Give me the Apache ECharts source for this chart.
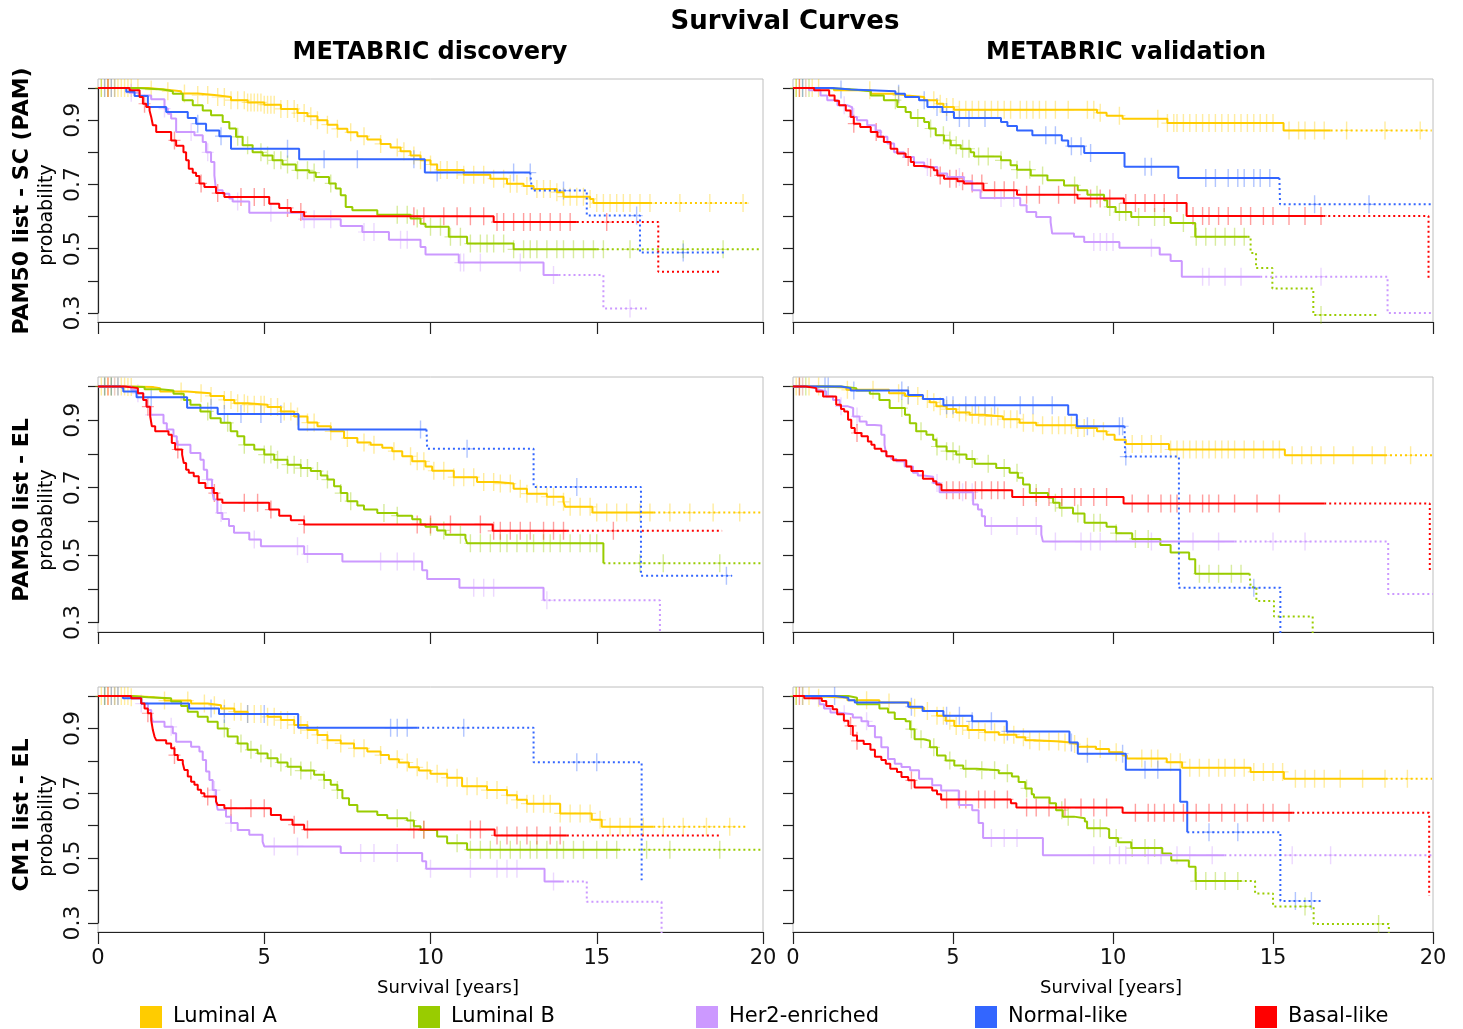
<!DOCTYPE html>
<html>
<head>
<meta charset="utf-8">
<script src="https://cdn.jsdelivr.net/npm/echarts@6/dist/echarts.min.js"></script>
<style>
  html, body { margin: 0; padding: 0; background: #fff; }
  #chart { width: 1463px; height: 1029px; }
</style>
</head>
<body>
<div id="chart"></div>
<script>
// groups and colours
const groups = ['Luminal A', 'Luminal B', 'Her2-enriched', 'Normal-like', 'Basal-like'];
const groupColors = ['#FFCC00', '#99CC00', '#CC99FF', '#3366FF', '#FF0000'];
const colTitles = ['METABRIC discovery', 'METABRIC validation'];
const rowTitles = ['PAM50 list - SC (PAM)', 'PAM50 list - EL', 'CM1 list - EL'];
const xTicks = [0, 5, 10, 15, 20];
const yTicks = [0.3, 0.4, 0.5, 0.6, 0.7, 0.8, 0.9, 1.0];

// ---- PAM50 SC (PAM), discovery : [time, survival] after each drop ----
const scDiscLumA = [[0,1],[1.5,0.995],[2,0.99],[2.5,0.983],[3,0.978],[3.5,0.972],[4,0.962],[4.5,0.955],[5,0.948],[5.5,0.935],[6,0.922],[6.3,0.912],[6.6,0.9],[6.9,0.886],[7.2,0.873],[7.5,0.862],[7.8,0.85],[8.1,0.84],[8.5,0.826],[8.8,0.815],[9.1,0.803],[9.4,0.79],[9.7,0.775],[10,0.762],[10.2,0.745],[11,0.73],[11.8,0.718],[12.3,0.702],[12.8,0.695],[13.1,0.686],[13.8,0.676],[14,0.662],[14.8,0.655],[14.9,0.642]];
const scDiscLumB = [[0,1],[1.2,0.995],[1.95,0.99],[2.25,0.982],[2.55,0.962],[2.85,0.946],[3.15,0.93],[3.4,0.915],[3.75,0.894],[3.95,0.874],[4.15,0.848],[4.35,0.822],[4.65,0.8],[4.95,0.79],[5.25,0.775],[5.55,0.762],[5.95,0.744],[6.35,0.737],[6.55,0.723],[6.95,0.703],[7.15,0.687],[7.3,0.666],[7.45,0.63],[7.65,0.62],[8.4,0.606],[9.4,0.594],[9.7,0.578],[9.85,0.568],[10.55,0.537],[11.1,0.516],[12.5,0.498]];
const scDiscHer2 = [[0,1],[0.95,0.985],[1.25,0.977],[1.6,0.965],[2,0.936],[2.1,0.92],[2.2,0.905],[2.35,0.863],[2.9,0.853],[3.15,0.832],[3.25,0.8],[3.4,0.77],[3.5,0.728],[3.55,0.682],[3.75,0.671],[3.95,0.656],[4.05,0.647],[4.55,0.612],[6.15,0.592],[7.3,0.571],[7.95,0.552],[8.75,0.528],[9.7,0.505],[9.85,0.482],[10.85,0.457],[13.4,0.418],[15.2,0.314]];
const scDiscNormal = [[0,1],[0.85,0.988],[1.1,0.975],[1.5,0.941],[2.05,0.925],[2.7,0.907],[2.95,0.889],[3.25,0.868],[3.65,0.85],[4,0.811],[6.05,0.778],[9.83,0.737],[13.05,0.681],[14.7,0.603],[16.3,0.488]];
const scDiscBasal = [[0,1],[0.95,0.993],[1.25,0.972],[1.35,0.951],[1.45,0.941],[1.55,0.93],[1.6,0.91],[1.65,0.884],[1.75,0.863],[2.2,0.837],[2.35,0.82],[2.57,0.8],[2.65,0.775],[2.73,0.749],[2.85,0.736],[2.95,0.726],[3.05,0.703],[3.2,0.692],[3.55,0.673],[3.8,0.661],[5.15,0.64],[5.45,0.627],[5.8,0.614],[6.2,0.601],[11.9,0.583],[16.85,0.428]];
// [solid line until, curve ends at] per group
const scDiscCuts = [[16.6, 19.6], [15.0, 19.9], [13.85, 16.5], [13.0, 18.9], [14.4, 18.75]];
// censoring times
const scDiscCensLumA = [0.1,0.2,0.3,0.4,0.5,0.6,0.7,0.8,0.9,1.0,1.2,1.6,2.1,2.6,3.0,3.3,3.6,3.8,4.0,4.2,4.4,4.5,4.6,4.7,4.8,4.9,5.0,5.1,5.2,5.3,5.5,5.7,5.9,6.0,6.2,6.4,6.6,6.9,7.2,7.6,8.0,8.5,9.0,9.2,9.5,9.7,10.0,10.3,10.5,10.8,11.0,11.3,11.6,11.9,12.2,12.4,12.6,12.9,13.2,13.4,13.6,13.8,14.0,14.2,14.4,14.6,14.8,15.0,15.2,15.4,15.6,15.8,16.0,16.3,16.6,17.5,18.4,19.4];
const scDiscCensLumB = [0.1,0.3,0.5,4.2,4.5,4.9,5.1,5.3,5.5,5.7,6.0,6.3,6.5,7.0,9.0,9.3,9.6,10.0,10.3,10.6,10.9,11.2,11.5,11.7,11.9,12.2,12.5,12.8,13.0,13.2,13.5,13.8,14.0,14.3,14.6,14.9,15.2,16.0,17.6,18.8];
const scDiscCensHer2 = [0.5,1.0,2.0,2.8,3.3,4.2,5.2,6.2,6.5,7.0,8.0,8.3,9.1,9.3,10.9,11.0,11.5,12.7,13.7,16.0];
const scDiscCensNormal = [0.2,0.4,3.0,3.7,5.7,6.8,7.8,9.5,10.2,12.5,13.0,14.0,16.2,17.6];
const scDiscCensBasal = [0.3,1.4,2.3,3.1,3.6,4.3,4.7,5.0,5.7,6.1,9.5,9.8,10.4,10.8,11.2,11.6,12.0,12.2,12.5,12.8,13.0,13.3,13.6,13.9,14.2,15.3];

// ---- PAM50 SC (PAM), validation ----
const scValLumA = [[0,1],[1.28,0.993],[2.43,0.982],[3.26,0.977],[3.55,0.972],[4.1,0.962],[4.5,0.951],[4.7,0.941],[5.03,0.932],[9.5,0.923],[9.8,0.914],[10.3,0.904],[11.7,0.891],[15.33,0.868]];
const scValLumB = [[0,1],[1,0.996],[1.8,0.99],[2.43,0.977],[2.84,0.962],[3.26,0.941],[3.52,0.925],[3.68,0.907],[4.1,0.894],[4.25,0.874],[4.46,0.853],[4.72,0.837],[4.93,0.822],[5.24,0.811],[5.55,0.8],[5.66,0.787],[6.5,0.775],[6.8,0.76],[7,0.746],[7.43,0.728],[7.95,0.713],[8.47,0.697],[8.9,0.682],[9.2,0.668],[9.72,0.651],[9.82,0.63],[10.08,0.614],[10.57,0.599],[11.8,0.58],[12.57,0.537],[14.3,0.487],[14.47,0.44],[14.98,0.376],[16.26,0.294]];
const scValHer2 = [[0,1],[0.5,0.993],[0.86,0.977],[1.07,0.962],[1.39,0.946],[1.7,0.94],[1.85,0.91],[2,0.9],[2.32,0.884],[2.58,0.868],[2.74,0.848],[2.95,0.827],[3.16,0.8],[3.47,0.785],[3.78,0.768],[4.1,0.754],[4.51,0.734],[4.82,0.723],[5.34,0.71],[5.6,0.682],[5.86,0.658],[7.1,0.635],[7.3,0.614],[7.6,0.599],[8.05,0.583],[8.1,0.547],[8.78,0.537],[9.1,0.521],[10.2,0.503],[11.46,0.482],[11.8,0.462],[12.15,0.413],[18.58,0.3]];
const scValNormal = [[0,1],[1.23,0.995],[1.8,0.99],[3.2,0.982],[3.5,0.972],[3.94,0.962],[4.2,0.941],[4.67,0.925],[5.03,0.907],[6.5,0.894],[6.7,0.882],[7,0.868],[7.48,0.853],[8.4,0.837],[8.6,0.819],[9.1,0.798],[10.36,0.755],[12.04,0.72],[15.22,0.638]];
const scValBasal = [[0,1],[0.66,0.993],[1.13,0.977],[1.3,0.96],[1.44,0.946],[1.65,0.93],[1.8,0.91],[1.9,0.889],[2.1,0.879],[2.43,0.863],[2.64,0.848],[2.84,0.832],[3.05,0.811],[3.26,0.796],[3.52,0.785],[3.68,0.77],[3.78,0.757],[4.1,0.752],[4.4,0.744],[4.51,0.728],[4.72,0.718],[5.14,0.71],[5.34,0.703],[5.95,0.682],[7,0.668],[8.89,0.656],[10.34,0.642],[12.3,0.602],[19.86,0.407]];
const scValCuts = [[16.8, 19.96], [14.2, 18.3], [14.6, 20], [15.2, 20], [16.57, 19.86]];
const scValCensLumA = [0.1,0.2,0.4,0.6,0.8,2.4,3.3,4.4,4.6,4.8,5.0,5.2,5.4,5.6,5.8,6.0,6.2,6.4,6.6,6.8,7.1,7.3,7.5,7.7,7.9,8.2,8.6,9.2,9.4,9.6,10.2,11.4,11.7,11.9,12.0,12.2,12.4,12.6,12.8,13.0,13.2,13.4,13.6,13.8,14.0,14.2,14.4,14.6,14.8,15.0,15.5,15.8,16.0,16.3,16.6,17.3,18.5,19.6];
const scValCensLumB = [0.1,0.3,0.5,3.2,3.9,4.3,4.7,4.9,5.1,5.3,5.5,5.8,6.1,6.5,7.0,7.4,7.8,8.8,9.5,9.9,10.2,10.4,10.8,11.3,11.6,12.2,12.6,12.9,13.2,13.5,13.8,14.1,16.5];
const scValCensHer2 = [0.4,1.6,1.9,4.2,5.2,6.5,6.9,9.4,9.6,9.8,10.0,11.2,12.8,13.0,13.5,14.0,16.5];
const scValCensNormal = [0.3,1.5,3.3,4.1,4.5,4.8,5.2,5.5,6.0,7.9,8.2,8.7,9.0,9.3,11.0,11.2,12.9,13.2,13.6,13.9,14.1,14.4,14.6,14.9,16.3,18.0];
const scValCensBasal = [0.2,1.9,2.6,3.6,4.3,4.6,4.9,5.1,5.3,5.6,5.9,6.3,6.6,6.9,7.3,7.7,8.3,8.8,9.3,9.6,9.9,10.4,10.7,11.0,11.3,11.6,12.0,12.5,12.8,13.0,13.3,13.6,14.0,14.3,14.7,15.0,15.5,16.0,16.5];

// ---- PAM50 EL, discovery ----
const elDiscLumA = [[0,1],[0.9,0.998],[1.67,0.995],[1.87,0.985],[2.68,0.98],[3.38,0.972],[3.79,0.96],[4.1,0.95],[4.5,0.946],[5.1,0.939],[5.5,0.926],[5.9,0.911],[6.3,0.893],[6.6,0.882],[7,0.867],[7.4,0.847],[7.8,0.834],[8.2,0.827],[8.55,0.818],[8.85,0.808],[9.15,0.793],[9.45,0.778],[9.85,0.763],[10.05,0.75],[10.7,0.731],[11.4,0.717],[12,0.712],[12.5,0.697],[12.9,0.682],[13.5,0.673],[14,0.658],[14.05,0.643],[14.87,0.626]];
const elDiscLumB = [[0,1],[0.6,0.998],[1.4,0.992],[1.87,0.988],[2.27,0.978],[2.58,0.96],[2.78,0.946],[3.08,0.926],[3.38,0.906],[3.69,0.892],[3.99,0.867],[4.19,0.852],[4.4,0.827],[4.7,0.813],[5,0.798],[5.3,0.783],[5.7,0.768],[6.1,0.758],[6.4,0.749],[6.7,0.736],[6.9,0.724],[7.1,0.704],[7.3,0.684],[7.5,0.66],[7.8,0.647],[8,0.635],[8.4,0.625],[9,0.617],[9.45,0.606],[9.7,0.591],[9.85,0.584],[10.2,0.573],[10.45,0.56],[11.05,0.55],[11.1,0.535],[15.2,0.476]];
const elDiscHer2 = [[0,1],[1,0.99],[1.16,0.98],[1.36,0.96],[1.46,0.94],[1.57,0.916],[1.97,0.891],[2.07,0.872],[2.27,0.852],[2.37,0.827],[2.78,0.803],[3.08,0.783],[3.18,0.753],[3.28,0.724],[3.43,0.694],[3.48,0.665],[3.59,0.625],[3.74,0.607],[3.94,0.586],[4.09,0.566],[4.55,0.546],[4.9,0.526],[6.2,0.503],[7.35,0.481],[9.75,0.455],[9.9,0.429],[10.87,0.403],[13.4,0.366],[16.9,0.2]];
const elDiscNormal = [[0,1],[0.66,0.995],[0.76,0.985],[1.16,0.968],[2.68,0.937],[3.6,0.918],[6.03,0.872],[9.9,0.815],[13.1,0.702],[16.33,0.439]];
const elDiscBasal = [[0,1],[0.8,0.995],[1.2,0.98],[1.36,0.96],[1.46,0.94],[1.57,0.911],[1.62,0.882],[1.72,0.867],[2.12,0.857],[2.22,0.832],[2.32,0.813],[2.53,0.798],[2.58,0.773],[2.65,0.753],[2.73,0.744],[2.88,0.734],[3.03,0.714],[3.23,0.699],[3.48,0.684],[3.59,0.665],[3.74,0.655],[5.15,0.635],[5.45,0.617],[5.8,0.603],[6.2,0.591],[11.87,0.572]];
const elDiscCuts = [[16.7, 20], [15.2, 20], [13.4, 16.9], [9.88, 19.07], [14.1, 18.77]];
const elDiscCensLumA = [0.1,0.2,0.3,0.4,0.5,0.6,0.7,0.8,0.9,1.0,2.5,3.1,3.4,3.8,4.0,4.2,4.4,4.5,4.7,4.9,5.0,5.2,5.4,5.6,5.8,6.0,6.3,6.5,7.0,7.5,8.0,8.3,8.9,9.4,9.6,9.8,10.1,10.4,10.7,11.0,11.3,11.6,11.9,12.1,12.4,12.7,12.9,13.2,13.5,13.7,14.0,14.2,14.5,14.8,15.0,15.3,15.6,15.9,16.3,16.6,17.2,17.8,18.5,19.3];
const elDiscCensLumB = [0.2,0.4,3.3,3.9,4.4,5.0,5.2,5.4,5.7,5.9,6.1,6.3,6.6,6.9,7.3,7.6,8.6,9.0,10.0,10.4,10.9,11.2,11.5,11.8,12.1,12.3,12.6,12.9,13.1,13.4,13.6,13.9,14.2,14.5,14.8,15.0,16.3,17.0,18.7];
const elDiscCensHer2 = [0.5,1.2,1.6,3.3,3.7,4.7,6.0,6.3,8.5,9.0,9.5,11.3,11.6,11.9,13.5];
const elDiscCensNormal = [0.2,0.4,0.6,1.6,3.4,3.8,4.3,4.9,5.5,9.7,11.1,14.4,18.9];
const elDiscCensBasal = [0.3,1.5,2.4,3.5,4.4,4.8,5.2,6.2,9.6,10.0,10.6,11.5,11.9,12.1,12.4,12.7,13.0,13.4,13.7,14.0,15.5];

// ---- PAM50 EL, validation ----
const elValLumA = [[0,1],[0.9,0.997],[1.67,0.99],[3,0.98],[3.5,0.972],[4.06,0.963],[4.27,0.953],[4.48,0.941],[4.8,0.933],[5.1,0.923],[5.52,0.916],[5.94,0.911],[6.56,0.903],[7.08,0.892],[7.6,0.885],[8.85,0.877],[9.5,0.867],[9.8,0.857],[10.05,0.842],[10.4,0.829],[11.75,0.813],[15.37,0.796]];
const elValLumB = [[0,1],[1.5,0.995],[1.98,0.988],[2.4,0.978],[2.7,0.96],[3.02,0.936],[3.5,0.916],[3.65,0.891],[3.85,0.867],[4.17,0.857],[4.38,0.842],[4.48,0.822],[4.8,0.808],[5.1,0.798],[5.42,0.785],[5.68,0.771],[6.35,0.758],[6.77,0.744],[7.03,0.729],[7.19,0.709],[7.4,0.684],[7.97,0.67],[8.13,0.655],[8.33,0.64],[8.75,0.623],[9.11,0.596],[9.8,0.584],[10.1,0.565],[10.6,0.548],[11.48,0.53],[11.8,0.508],[12.38,0.488],[12.57,0.445],[14.3,0.405],[14.48,0.364],[15.03,0.318],[16.24,0.2]];
const elValHer2 = [[0,1],[0.73,0.99],[0.83,0.985],[1.04,0.97],[1.25,0.96],[1.46,0.941],[1.72,0.936],[1.88,0.911],[2.08,0.896],[2.3,0.886],[2.55,0.884],[2.76,0.857],[2.86,0.827],[2.92,0.793],[3.07,0.785],[3.23,0.778],[3.49,0.763],[3.75,0.744],[3.9,0.736],[4.06,0.732],[4.38,0.714],[4.58,0.686],[5.63,0.65],[5.78,0.635],[5.9,0.615],[6,0.586],[7.76,0.561],[7.81,0.54],[18.6,0.385]];
const elValNormal = [[0,1],[1.5,0.995],[1.8,0.988],[3.6,0.975],[4.06,0.963],[4.7,0.944],[8.6,0.916],[8.87,0.882],[10.38,0.792],[12.06,0.403],[15.23,0.2]];
const elValBasal = [[0,1],[0.4,0.995],[0.73,0.985],[0.94,0.97],[1.35,0.946],[1.5,0.933],[1.6,0.926],[1.72,0.901],[1.82,0.877],[1.93,0.862],[2.14,0.852],[2.34,0.837],[2.45,0.827],[2.55,0.815],[2.76,0.808],[2.92,0.793],[3.13,0.781],[3.54,0.763],[3.7,0.749],[4.06,0.726],[4.38,0.719],[4.48,0.709],[4.64,0.692],[6.85,0.672],[10.33,0.653],[19.9,0.455]];
const elValCuts = [[18.5, 20], [14.27, 16.24], [13.8, 20], [10.36, 15.23], [16.6, 19.9]];
const elValCensLumA = [0.1,0.3,0.5,0.8,1.7,2.5,3.3,3.6,3.9,4.2,4.4,4.6,4.8,5.0,5.2,5.4,5.6,5.8,6.0,6.2,6.4,6.6,6.8,7.0,7.2,7.5,7.8,8.1,8.3,8.5,8.7,8.9,9.1,9.4,9.7,10.6,10.9,11.2,11.5,11.8,12.0,12.2,12.4,12.6,12.8,13.0,13.2,13.4,13.6,13.8,14.1,14.4,14.7,15.0,15.2,15.6,15.9,16.2,16.5,16.9,17.5,18.1,18.5,19.3];
const elValCensLumB = [0.2,0.4,3.4,4.0,4.5,4.8,5.0,5.2,5.6,6.1,6.6,7.0,7.6,8.2,8.4,8.9,9.4,9.6,10.1,10.7,11.1,12.7,13.0,13.3,13.7,14.0];
const elValCensHer2 = [0.3,1.5,2.0,4.5,5.3,5.6,6.2,7.0,7.6,8.2,9.0,9.3,9.6,11.2,12.5,13.3,15.0,16.0];
const elValCensNormal = [1.0,1.1,1.9,3.4,3.6,4.8,5.0,5.4,5.7,6.0,6.3,7.1,7.5,8.1,9.2,10.2,10.3,10.4,14.4];
const elValCensBasal = [0.2,2.0,4.8,5.0,5.2,5.4,5.7,5.9,6.2,6.4,6.6,7.2,7.6,8.0,8.4,8.8,9.0,9.4,9.8,10.6,11.1,11.5,11.8,12.0,12.4,12.8,13.0,13.3,13.8,14.5,15.2];

// ---- CM1 EL, discovery ----
const cmDiscLumA = [[0,1],[1,0.996],[1.7,0.993],[2,0.986],[2.8,0.977],[3.3,0.972],[3.7,0.962],[4.1,0.952],[4.5,0.945],[5.1,0.936],[5.5,0.926],[5.9,0.911],[6.3,0.895],[6.6,0.88],[6.9,0.864],[7.3,0.854],[7.7,0.839],[8.1,0.829],[8.5,0.818],[8.75,0.805],[9.05,0.795],[9.35,0.78],[9.65,0.77],[10,0.76],[10.5,0.748],[10.95,0.722],[11.7,0.71],[12.3,0.694],[12.6,0.68],[12.9,0.668],[13.9,0.638],[14.85,0.618],[15.15,0.597]];
const cmDiscLumB = [[0,1],[1,0.996],[1.5,0.993],[2.2,0.983],[2.5,0.969],[2.7,0.952],[3,0.936],[3.3,0.921],[3.6,0.9],[3.9,0.875],[4.2,0.854],[4.5,0.834],[4.8,0.823],[5.1,0.808],[5.4,0.795],[5.7,0.782],[6.1,0.77],[6.5,0.757],[6.8,0.741],[7,0.726],[7.2,0.71],[7.35,0.685],[7.55,0.664],[7.8,0.644],[8.4,0.633],[8.7,0.623],[9.3,0.616],[9.5,0.598],[9.7,0.587],[10.2,0.567],[10.5,0.546],[11.1,0.526]];
const cmDiscHer2 = [[0,1],[1,0.993],[1.3,0.977],[1.5,0.957],[1.6,0.936],[1.65,0.921],[2,0.905],[2.25,0.885],[2.35,0.859],[2.8,0.844],[3.05,0.829],[3.15,0.803],[3.25,0.767],[3.35,0.741],[3.45,0.71],[3.55,0.675],[3.6,0.649],[3.85,0.628],[4,0.608],[4.2,0.587],[4.55,0.572],[4.95,0.551],[5,0.536],[7.3,0.516],[9.75,0.49],[9.87,0.467],[13.43,0.428],[14.7,0.365],[16.95,0.2]];
const cmDiscNormal = [[0,1],[0.75,0.993],[1.3,0.977],[2.74,0.962],[3.64,0.945],[6.02,0.902],[13.1,0.796],[16.35,0.432]];
const cmDiscBasal = [[0,1],[1,0.993],[1.3,0.977],[1.4,0.962],[1.5,0.947],[1.6,0.926],[1.65,0.895],[1.7,0.875],[1.75,0.864],[2.05,0.854],[2.2,0.839],[2.3,0.818],[2.4,0.803],[2.55,0.793],[2.6,0.772],[2.7,0.752],[2.8,0.736],[2.9,0.726],[3,0.711],[3.1,0.7],[3.2,0.69],[3.55,0.675],[3.6,0.664],[3.8,0.654],[5.2,0.633],[5.5,0.618],[5.85,0.603],[6.2,0.588],[11.93,0.57]];
const cmDiscCuts = [[16.7, 19.5], [15.65, 20], [13.95, 16.95], [9.6, 16.35], [14.1, 18.75]];
const cmDiscCensLumA = [0.1,0.2,0.3,0.4,0.5,0.6,0.7,0.8,0.9,1.0,2.0,2.7,3.2,3.5,3.8,4.1,4.3,4.5,4.7,4.9,5.1,5.3,5.5,5.7,5.9,6.1,6.3,6.6,6.9,7.3,7.7,8.0,8.5,9.0,9.3,9.6,9.9,10.2,10.5,10.8,11.1,11.4,11.7,12.0,12.3,12.6,12.9,13.1,13.4,13.6,13.9,14.2,14.5,14.8,15.1,15.4,15.7,16.0,16.4,17.0,17.6,18.3,19.0];
const cmDiscCensLumB = [0.2,0.5,3.8,4.3,4.6,4.9,5.2,5.5,5.8,6.1,6.4,6.8,7.2,9.0,9.4,9.8,10.8,11.2,11.5,11.8,12.1,12.4,12.7,13.0,13.2,13.5,13.8,14.0,14.3,14.6,15.0,15.3,15.6,16.5,17.2,18.7];
const cmDiscCensHer2 = [0.5,1.3,2.2,3.5,4.0,5.3,6.0,7.9,8.3,9.0,10.0,11.2,12.0,12.3,12.6,13.7];
const cmDiscCensNormal = [0.2,0.4,0.6,3.4,3.8,4.5,5.0,8.8,9.0,9.3,11.0,14.4,15.0];
const cmDiscCensBasal = [0.3,1.5,2.3,3.3,4.0,4.6,5.0,5.9,6.3,9.5,9.8,11.2,11.5,12.0,12.3,12.6,12.9,13.2,13.6,13.9];

// ---- CM1 EL, validation ----
const cmValLumA = [[0,1],[0.6,0.995],[1.7,0.987],[2.7,0.98],[3.66,0.964],[4.1,0.954],[4.5,0.939],[4.77,0.924],[5.04,0.908],[5.46,0.895],[6,0.888],[6.43,0.881],[6.98,0.873],[7.26,0.864],[7.53,0.86],[8.36,0.857],[8.64,0.852],[8.9,0.844],[9.47,0.837],[9.88,0.827],[10.3,0.817],[10.43,0.807],[11.68,0.796],[12.16,0.779],[14.3,0.766],[15.34,0.745]];
const cmValLumB = [[0,1],[1.73,0.995],[2,0.975],[2.7,0.962],[2.97,0.949],[3.18,0.929],[3.52,0.922],[3.66,0.898],[3.8,0.867],[4.08,0.862],[4.28,0.842],[4.5,0.817],[4.77,0.801],[5.04,0.786],[5.32,0.776],[5.74,0.771],[6.43,0.762],[6.84,0.752],[7.05,0.735],[7.26,0.715],[7.46,0.697],[7.53,0.687],[8.02,0.669],[8.22,0.648],[8.43,0.628],[8.78,0.623],[9.12,0.613],[9.19,0.592],[9.81,0.589],[9.88,0.562],[10.16,0.549],[10.57,0.531],[11.54,0.514],[11.82,0.493],[12.37,0.473],[12.58,0.429],[14.44,0.391],[15,0.351],[16.27,0.297],[18.62,0.27]];
const cmValHer2 = [[0,1],[0.6,0.993],[0.83,0.975],[0.97,0.962],[1.17,0.949],[1.38,0.944],[1.87,0.934],[2.14,0.922],[2.35,0.908],[2.56,0.873],[2.76,0.842],[2.97,0.806],[3.18,0.791],[3.39,0.781],[3.66,0.771],[3.94,0.745],[4.35,0.725],[4.63,0.709],[5.18,0.664],[5.6,0.648],[5.8,0.608],[5.94,0.562],[7.81,0.509]];
const cmValNormal = [[0,1],[1.31,0.995],[1.73,0.987],[1.93,0.98],[3.6,0.967],[4.05,0.954],[4.7,0.939],[5.6,0.922],[6.68,0.891],[8.64,0.857],[8.9,0.822],[10.4,0.773],[12.1,0.674],[12.32,0.58],[15.23,0.368]];
const cmValBasal = [[0,1],[0.35,0.993],[0.9,0.985],[1.04,0.969],[1.24,0.959],[1.38,0.944],[1.59,0.924],[1.73,0.908],[1.87,0.878],[2,0.862],[2.21,0.852],[2.42,0.834],[2.56,0.813],[2.76,0.803],[2.9,0.791],[3.04,0.776],[3.25,0.766],[3.39,0.75],[3.6,0.74],[3.8,0.718],[4.35,0.709],[4.5,0.697],[4.63,0.681],[6.81,0.669],[6.98,0.656],[10.3,0.64],[19.88,0.383]];
const cmValCuts = [[18.52, 19.97], [13.96, 18.62], [13.48, 19.97], [12.32, 16.52], [15.6, 19.88]];
const cmValCensLumA = [0.1,0.3,0.5,0.8,2.3,3.0,3.8,4.2,4.5,4.7,4.9,5.1,5.3,5.5,5.8,6.0,6.3,6.6,6.9,7.2,7.4,7.7,8.0,8.3,8.5,8.8,9.2,9.6,10.1,10.9,11.2,11.4,11.8,12.1,12.4,12.7,13.0,13.3,13.5,13.8,14.1,14.4,14.7,15.0,15.3,15.7,16.0,16.3,16.6,17.1,17.8,18.5,19.2];
const cmValCensLumB = [0.1,0.3,3.7,4.0,4.4,4.9,5.4,5.9,6.3,6.7,7.3,8.4,8.6,9.4,9.6,10.1,10.6,11.0,11.3,12.6,12.9,13.2,13.5,13.9,16.0,18.3];
const cmValCensHer2 = [0.3,1.6,2.3,6.2,6.6,7.0,9.4,9.9,10.2,10.4,11.1,11.5,12.0,12.4,13.1,15.6,16.8];
const cmValCensNormal = [1.3,3.7,4.8,5.2,5.6,6.2,6.7,8.7,9.2,10.3,11.0,11.4,13.0,13.9,15.7,16.2];
const cmValCensBasal = [0.2,1.8,2.0,3.7,4.8,5.2,5.4,5.8,6.0,6.3,6.7,7.3,7.6,8.0,8.5,9.0,9.4,9.8,10.7,11.1,11.3,11.6,11.9,12.2,12.6,13.0,13.4,13.8,14.2,14.7,15.0,15.5];

// panels in reading order: row by row, discovery left, validation right
const panels = [
  { curves: [scDiscLumA, scDiscLumB, scDiscHer2, scDiscNormal, scDiscBasal], cuts: scDiscCuts,
    cens: [scDiscCensLumA, scDiscCensLumB, scDiscCensHer2, scDiscCensNormal, scDiscCensBasal] },
  { curves: [scValLumA, scValLumB, scValHer2, scValNormal, scValBasal], cuts: scValCuts,
    cens: [scValCensLumA, scValCensLumB, scValCensHer2, scValCensNormal, scValCensBasal] },
  { curves: [elDiscLumA, elDiscLumB, elDiscHer2, elDiscNormal, elDiscBasal], cuts: elDiscCuts,
    cens: [elDiscCensLumA, elDiscCensLumB, elDiscCensHer2, elDiscCensNormal, elDiscCensBasal] },
  { curves: [elValLumA, elValLumB, elValHer2, elValNormal, elValBasal], cuts: elValCuts,
    cens: [elValCensLumA, elValCensLumB, elValCensHer2, elValCensNormal, elValCensBasal] },
  { curves: [cmDiscLumA, cmDiscLumB, cmDiscHer2, cmDiscNormal, cmDiscBasal], cuts: cmDiscCuts,
    cens: [cmDiscCensLumA, cmDiscCensLumB, cmDiscCensHer2, cmDiscCensNormal, cmDiscCensBasal] },
  { curves: [cmValLumA, cmValLumB, cmValHer2, cmValNormal, cmValBasal], cuts: cmValCuts,
    cens: [cmValCensLumA, cmValCensLumB, cmValCensHer2, cmValCensNormal, cmValCensBasal] }
];

// layout
const colLeft = [98, 793], colWidth = [665, 640];
const rowTop = [79, 377, 687], rowHeight = [243, 255, 245];
const yMin = 0.272, yMax = 1.028;
const FONT = '"DejaVu Sans", sans-serif';
const AXIS_COL = '#222';

// survival value at time t (step function)
function survAt(steps, t) {
  let s = 1;
  for (const p of steps) {
    if (p[0] <= t) s = p[1]; else break;
  }
  return s;
}
function solidPart(steps, cut) {
  const pts = steps.filter(p => p[0] <= cut).map(p => [p[0], p[1]]);
  pts.push([cut, survAt(steps, cut)]);
  return pts;
}
function dottedPart(steps, cut, end) {
  const pts = [[cut, survAt(steps, cut)]];
  steps.forEach(p => { if (p[0] > cut && p[0] <= end) pts.push([p[0], p[1]]); });
  pts.push([end, survAt(steps, end)]);
  return pts;
}

const grid = [], xAxis = [], yAxis = [], series = [];

panels.forEach((panel, i) => {
  const r = Math.floor(i / 2), c = i % 2;
  const top = rowTop[r], h = rowHeight[r];
  const tickTop = top + (yMax - 1.0) / (yMax - yMin) * h;
  const tickH = 0.7 / (yMax - yMin) * h;

  // box grid (data)
  grid.push({ left: colLeft[c], top: top, width: colWidth[c], height: h,
    show: true, borderColor: '#bebebe', borderWidth: 1, containLabel: false });
  // tick grid (0.3 - 1.0, R-style axis)
  grid.push({ left: colLeft[c], top: tickTop, width: colWidth[c], height: tickH, containLabel: false });

  xAxis.push({
    gridIndex: 2 * i, type: 'value', min: 0, max: 20, interval: 5,
    axisLine: { show: true, lineStyle: { color: AXIS_COL, width: 1.2 } },
    axisTick: { show: true, inside: false, length: 12, lineStyle: { color: AXIS_COL, width: 1.2 } },
    axisLabel: { show: r === 2, fontFamily: FONT, fontSize: 21, color: '#111', margin: 16 },
    splitLine: { show: false }
  });
  xAxis.push({ gridIndex: 2 * i + 1, type: 'value', min: 0, max: 20, show: false });

  yAxis.push({ gridIndex: 2 * i, type: 'value', min: yMin, max: yMax, show: false });
  yAxis.push({
    gridIndex: 2 * i + 1, type: 'value', min: yTicks[0], max: yTicks[yTicks.length - 1], interval: 0.1,
    axisLine: { show: true, lineStyle: { color: AXIS_COL, width: 1.2 } },
    axisTick: { show: true, inside: false, length: 10, lineStyle: { color: AXIS_COL, width: 1.2 } },
    axisLabel: {
      show: c === 0, rotate: 90, margin: 14, fontFamily: FONT, fontSize: 22, color: '#111',
      formatter: v => { const k = Math.round(v * 10); return k % 2 === 1 ? (k / 10).toFixed(1) : ''; }
    },
    splitLine: { show: false }
  });

  panel.curves.forEach((steps, g) => {
    const cut = panel.cuts[g][0], end = panel.cuts[g][1];
    const col = groupColors[g];
    series.push({
      name: groups[g], type: 'line', step: 'end', xAxisIndex: 2 * i, yAxisIndex: 2 * i,
      data: solidPart(steps, cut), showSymbol: false, symbol: 'none', z: 3,
      itemStyle: { color: col }, lineStyle: { color: col, width: 2 }
    });
    series.push({
      name: groups[g], type: 'line', step: 'end', xAxisIndex: 2 * i, yAxisIndex: 2 * i,
      data: dottedPart(steps, cut, end), showSymbol: false, symbol: 'none', z: 3,
      itemStyle: { color: col }, lineStyle: { color: col, width: 2, type: [2, 3] }
    });
    series.push({
      name: groups[g], type: 'scatter', xAxisIndex: 2 * i, yAxisIndex: 2 * i, z: 2,
      data: panel.cens[g].filter(t => t <= end).map(t => [t, survAt(steps, t)]),
      symbol: 'path://M0,8.4H12V9.6H0Z M5.3,0H6.7V18H5.3Z', symbolSize: [12, 18],
      itemStyle: { color: col, opacity: 0.38 }
    });
  });
});

// legend: one component per group so the spacing matches
const legendLeft = [140, 418, 696, 975, 1255];
const legend = groups.map((g, k) => ({
  left: legendLeft[k], top: 1006, padding: 0, itemWidth: 22, itemHeight: 22,
  selectedMode: false, icon: 'rect',
  data: [{ name: g, itemStyle: { color: groupColors[k], opacity: 1, borderWidth: 0 } }],
  textStyle: { fontFamily: FONT, fontSize: 21, color: '#000', padding: [0, 0, 0, 6] }
}));

// texts
function txt(x, y, text, font, rot) {
  return {
    type: 'text', x: x, y: y, rotation: rot || 0, silent: true,
    style: { text: text, font: font, fill: '#000', align: 'center', verticalAlign: 'middle',
      textAlign: 'center', textVerticalAlign: 'middle' }
  };
}
const graphic = [
  txt(785, 22, 'Survival Curves', 'bold 26px ' + FONT),
  txt(430, 53, colTitles[0], 'bold 24px ' + FONT),
  txt(1126, 53, colTitles[1], 'bold 24px ' + FONT),
  txt(22, 201, rowTitles[0], 'bold 22px ' + FONT, Math.PI / 2),
  txt(22, 510, rowTitles[1], 'bold 22px ' + FONT, Math.PI / 2),
  txt(22, 815, rowTitles[2], 'bold 22px ' + FONT, Math.PI / 2),
  txt(47, 215, 'probability', '19px ' + FONT, Math.PI / 2),
  txt(47, 520, 'probability', '19px ' + FONT, Math.PI / 2),
  txt(47, 826, 'probability', '19px ' + FONT, Math.PI / 2),
  txt(448, 988, 'Survival [years]', '18px ' + FONT),
  txt(1111, 988, 'Survival [years]', '18px ' + FONT)
];

const myChart = echarts.init(document.getElementById('chart'), null, { renderer: 'canvas' });
myChart.setOption({
  backgroundColor: '#ffffff',
  animation: false,
  grid: grid,
  xAxis: xAxis,
  yAxis: yAxis,
  legend: legend,
  graphic: graphic,
  series: series
});
</script>
</body>
</html>
